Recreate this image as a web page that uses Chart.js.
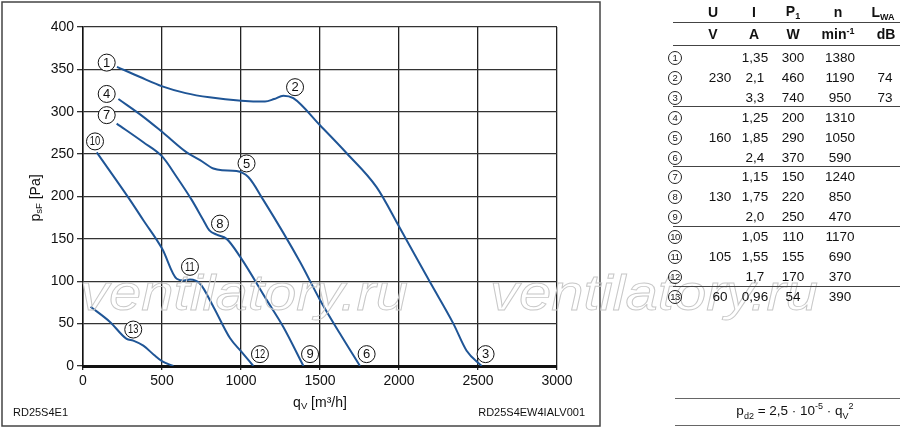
<!DOCTYPE html>
<html>
<head>
<meta charset="utf-8">
<script src="https://cdn.jsdelivr.net/npm/chart.js@4.4.0/dist/chart.umd.min.js"></script>
<style>
  body { margin: 0; background: #fff; overflow: hidden; }
  #wrap { position: relative; width: 900px; height: 429px; font-family: "Liberation Sans", Arial, sans-serif; color: #111; }
  #chart { position: absolute; left: 0; top: 0; }
  .cell { position: absolute; transform: translate(-50%, -50%); font-size: 13.5px; white-space: nowrap; }
  .head { font-weight: bold; font-size: 14px; }
  .ring { display: inline-block; width: 12px; height: 12px; border: 1px solid #222; border-radius: 50%;
          font-size: 9.5px; line-height: 12px; text-align: center; letter-spacing: -0.5px; }
  .hline { position: absolute; height: 0; border-top: 1px solid #555; }
  sub, sup { font-size: 9px; }
</style>
</head>
<body>
<div id="wrap">
  <canvas id="chart" width="900" height="429"></canvas>
  <div id="table"></div>
</div>
<script>
// curve 1 -> 2 -> 3 (230 V)
const flow230 = [215, 361, 502, 650, 800, 1002, 1152, 1210, 1268, 1331, 1500, 1669, 1858, 2002, 2196, 2344, 2428, 2523];
const pres230 = [353, 341, 330, 322, 317, 313, 312, 315, 319, 316, 284, 251, 211, 164, 99, 50, 18, 0];
// curve 4 -> 5 -> 6 (160 V)
const flow160 = [224, 382, 502, 656, 741, 825, 880, 972, 1046, 1141, 1373, 1500, 1627, 1753];
const pres160 = [315, 294, 276, 252, 243, 233, 231, 230, 223, 196, 123, 78, 38, 0];
// curve 7 -> 8 -> 9 (130 V)
const flow130 = [213, 382, 502, 593, 688, 762, 800, 846, 909, 994, 1162, 1268, 1395];
const pres130 = [286, 264, 247, 223, 196, 172, 160, 155, 150, 129, 78, 46, 0];
// curve 10 -> 11 -> 12 (105 V)
const flow105 = [87, 297, 382, 502, 593, 640, 677, 741, 825, 930, 1002, 1078];
const pres105 = [252, 196, 172, 138, 103, 101, 102, 97, 70, 33, 17, 0];
// curve 13 (60 V)
const flow60 = [48, 171, 276, 318, 382, 450, 502, 572];
const pres60 = [70, 52, 32, 30, 24, 13, 5.5, 0];

// operating point markers on the curves
const markNo = [1, 2, 3, 4, 5, 6, 7, 8, 9, 10, 11, 12, 13];
const markQ = [150, 1342, 2548, 150, 1035, 1795, 150, 867, 1437, 76, 677, 1120, 318];
const markP = [358, 329, 14, 321, 239, 14, 296, 168, 14, 265, 117, 14, 43];

// table values
const voltU = ['', '230', '', '', '160', '', '', '130', '', '', '105', '', '60'];
const currI = ['1,35', '2,1', '3,3', '1,25', '1,85', '2,4', '1,15', '1,75', '2,0', '1,05', '1,55', '1,7', '0,96'];
const powP1 = ['300', '460', '740', '200', '290', '370', '150', '220', '250', '110', '155', '170', '54'];
const speedN = ['1380', '1190', '950', '1310', '1050', '590', '1240', '850', '470', '1170', '690', '370', '390'];
const soundL = ['', '74', '73', '', '', '', '', '', '', '', '', '', ''];

const blue = '#1f5596';

function toPts(xs, ys) {
    return xs.map((x, i) => ({ x: x, y: ys[i] }));
}

function curve(xs, ys) {
    return {
        data: toPts(xs, ys),
        showLine: true,
        borderColor: blue,
        borderWidth: 2,
        pointRadius: 0,
        tension: 0.4,
        cubicInterpolationMode: 'monotone'
    };
}

const font = '"Liberation Sans", Arial, sans-serif';

// text with a subscript part, drawn left to right from x
function subText(ctx, x, y, base, sub, rest, size) {
    ctx.font = size + 'px ' + font;
    ctx.fillText(base, x, y);
    x += ctx.measureText(base).width;
    ctx.font = (size * 0.68) + 'px ' + font;
    ctx.fillText(sub, x, y + size * 0.25);
    x += ctx.measureText(sub).width;
    ctx.font = size + 'px ' + font;
    ctx.fillText(rest, x, y);
}

function subWidth(ctx, base, sub, rest, size) {
    ctx.font = size + 'px ' + font;
    let w = ctx.measureText(base).width + ctx.measureText(rest).width;
    ctx.font = (size * 0.68) + 'px ' + font;
    return w + ctx.measureText(sub).width;
}

const decorPlugin = {
    id: 'decor',
    afterDatasetsDraw(chart) {
        const ctx = chart.ctx;
        const xs = chart.scales.x, ys = chart.scales.y;
        ctx.save();
        for (let i = 0; i < markNo.length; i++) {
            let px = xs.getPixelForValue(markQ[i]);
            let py = ys.getPixelForValue(markP[i]);
            ctx.beginPath();
            ctx.arc(px, py, 8.5, 0, Math.PI * 2);
            ctx.fillStyle = '#fff';
            ctx.fill();
            ctx.lineWidth = 1;
            ctx.strokeStyle = '#111';
            ctx.stroke();
            ctx.fillStyle = '#111';
            ctx.textAlign = 'center';
            ctx.textBaseline = 'middle';
            let s = String(markNo[i]);
            if (s.length > 1) {
                ctx.font = '12px ' + font;
                ctx.save();
                ctx.translate(px, py + 0.5);
                ctx.scale(0.78, 1);
                ctx.fillText(s, 0, 0);
                ctx.restore();
            } else {
                ctx.font = '13px ' + font;
                ctx.fillText(s, px, py + 0.5);
            }
        }
        ctx.restore();
    },
    afterDraw(chart) {
        const ctx = chart.ctx;
        ctx.save();
        ctx.fillStyle = '#111';
        ctx.textBaseline = 'middle';
        ctx.textAlign = 'left';

        // y axis title
        ctx.save();
        ctx.translate(36, 198);
        ctx.rotate(-Math.PI / 2);
        let w = subWidth(ctx, 'p', 'sF', ' [Pa]', 14);
        subText(ctx, -w / 2, 0, 'p', 'sF', ' [Pa]', 14);
        ctx.restore();

        // x axis title
        w = subWidth(ctx, 'q', 'V', ' [m³/h]', 14);
        subText(ctx, 320 - w / 2, 403, 'q', 'V', ' [m³/h]', 14);

        // type labels
        ctx.font = '11px ' + font;
        ctx.fillText('RD25S4E1', 13, 413);
        ctx.textAlign = 'right';
        ctx.fillText('RD25S4EW4IALV001', 585, 413);

        // outer frame of the diagram
        ctx.strokeStyle = '#444';
        ctx.lineWidth = 1.5;
        ctx.strokeRect(2, 2, 598, 424);

        // watermark
        ctx.font = 'italic 300 50px ' + font;
        ctx.textAlign = 'left';
        ctx.textBaseline = 'alphabetic';
        ctx.strokeStyle = '#c8c8c8';
        ctx.lineWidth = 0.9;
        const mark = 'ventilatory.ru';
        const mw = ctx.measureText(mark).width;
        [80, 490].forEach(function (x0) {
            ctx.save();
            ctx.translate(x0, 310);
            ctx.scale(328 / mw, 1);
            ctx.strokeText(mark, 0, 0);
            ctx.restore();
        });
        ctx.restore();
    }
};

new Chart(document.getElementById('chart'), {
    type: 'scatter',
    data: {
        datasets: [
            curve(flow230, pres230),
            curve(flow160, pres160),
            curve(flow130, pres130),
            curve(flow105, pres105),
            curve(flow60, pres60)
        ]
    },
    options: {
        responsive: false,
        animation: false,
        devicePixelRatio: 1,
        layout: { padding: { left: 0, top: 27, right: 343, bottom: 0 } },
        plugins: { legend: { display: false }, tooltip: { enabled: false } },
        scales: {
            x: {
                type: 'linear', min: 0, max: 3000,
                ticks: {
                    stepSize: 500, color: '#111', font: { family: font, size: 14 }, padding: 3,
                    callback: function (v) { return String(v); }
                },
                grid: { color: '#222', lineWidth: 1.3, tickLength: 4 },
                border: { color: '#111', width: 3 },
                afterFit: function (s) { s.height = 63; }
            },
            y: {
                min: 0, max: 400,
                ticks: {
                    stepSize: 50, color: '#111', font: { family: font, size: 14 }, padding: 3,
                    callback: function (v) { return String(v); }
                },
                grid: { color: '#333', lineWidth: 1.3, tickLength: 6 },
                border: { color: '#111', width: 1.5 },
                afterFit: function (s) { s.width = 83; }
            }
        }
    },
    plugins: [decorPlugin]
});

// data table on the right
const table = document.getElementById('table');
function cell(x, y, html, cls) {
    const d = document.createElement('div');
    d.className = 'cell' + (cls ? ' ' + cls : '');
    d.style.left = x + 'px';
    d.style.top = y + 'px';
    d.innerHTML = html;
    table.appendChild(d);
}
function hline(x1, x2, y, color, width) {
    const d = document.createElement('div');
    d.className = 'hline';
    d.style.left = x1 + 'px';
    d.style.width = (x2 - x1) + 'px';
    d.style.top = y + 'px';
    if (color) d.style.borderTopColor = color;
    if (width) d.style.borderTopWidth = width + 'px';
    table.appendChild(d);
}

const colX = [675, 720, 755, 793, 840, 885];
cell(713, 12, 'U', 'head');
cell(754, 12, 'I', 'head');
cell(793, 12, 'P<sub>1</sub>', 'head');
cell(838, 12, 'n', 'head');
cell(883, 13, 'L<sub>WA</sub>', 'head');
cell(713, 34, 'V', 'head');
cell(754, 34, 'A', 'head');
cell(793, 34, 'W', 'head');
cell(838, 34, 'min<sup>-1</sup>', 'head');
cell(886, 34, 'dB', 'head');
hline(673, 900, 22, '#444');
hline(673, 900, 45, '#444');

for (let i = 0; i < markNo.length; i++) {
    const y = 57 + 19.9 * i;
    cell(colX[0], y, '<span class="ring">' + markNo[i] + '</span>');
    cell(colX[1], y, voltU[i]);
    cell(colX[2], y, currI[i]);
    cell(colX[3], y, powP1[i]);
    cell(colX[4], y, speedN[i]);
    cell(colX[5], y, soundL[i]);
}
[106, 166, 226, 286].forEach(function (y) { hline(673, 900, y, '#444'); });

hline(675, 900, 398, '#666', 1.5);
hline(675, 900, 425, '#666', 1.5);
cell(795, 411, 'p<sub>d2</sub> = 2,5 · 10<sup>-5</sup> · q<sub>V</sub><sup>2</sup>');
</script>
</body>
</html>
